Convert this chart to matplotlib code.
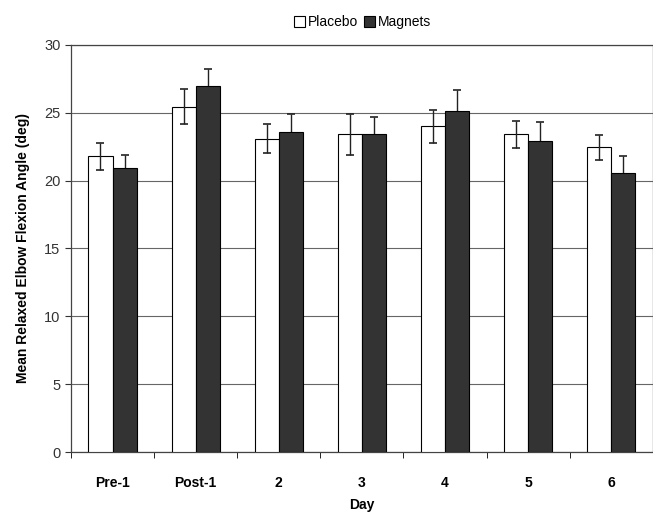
import matplotlib.pyplot as plt
import numpy as np

plt.rcParams['font.family'] = ['Liberation Sans', 'DejaVu Sans']

# data
days = ['Pre-1', 'Post-1', '2', '3', '4', '5', '6']
placebo = [21.8, 25.45, 23.1, 23.4, 24.0, 23.4, 22.45]
placebo_err = [1.0, 1.3, 1.1, 1.5, 1.2, 1.0, 0.9]
magnets = [20.9, 26.95, 23.6, 23.4, 25.15, 22.9, 20.55]
magnets_err = [1.0, 1.3, 1.3, 1.3, 1.5, 1.4, 1.25]

fig = plt.figure(figsize=(6.53, 5.14), dpi=100)
ax = fig.add_axes([0.1087, 0.1206, 0.891, 0.792])

x = np.arange(len(days))
w = 0.29
ax.bar(x - w/2, placebo, w, color='white', edgecolor='black', linewidth=0.8,
       label='Placebo', zorder=3)
ax.bar(x + w/2, magnets, w, color='#333333', edgecolor='black', linewidth=0.8,
       label='Magnets', zorder=3)
# placebo bars: whole error bar visible; magnets: lower half hidden by the dark bar
ax.errorbar(x - w/2, placebo, yerr=placebo_err, fmt='none', ecolor='#222222',
            elinewidth=1, capsize=3, capthick=1.2, zorder=4)
ax.errorbar(x + w/2, magnets, yerr=magnets_err, fmt='none', ecolor='#222222',
            elinewidth=1, capsize=3, capthick=1.2, zorder=2)

ax.set_ylim(0, 30)
ax.set_xlim(-0.5, 6.5)
ax.set_yticks(range(0, 31, 5))
ax.set_xticks(x)
ax.set_xticklabels(days, fontweight='bold', fontsize=10)
ax.set_xticks(np.arange(-0.5, 7, 1), minor=True)
ax.tick_params(axis='x', which='major', length=0, pad=17)
ax.tick_params(axis='x', which='minor', length=4, direction='out')
ax.tick_params(axis='y', labelsize=10.5, length=4, direction='out', colors='#333333')
ax.yaxis.grid(True, color='#666666', linewidth=0.8, zorder=0)

for s in ax.spines.values():
    s.set_color('#444444')
    s.set_linewidth(0.9)

ax.set_xlabel('Day', fontweight='bold', fontsize=10, labelpad=6)
ax.set_ylabel('Mean Relaxed Elbow Flexion Angle (deg)', fontweight='bold', fontsize=10,
              labelpad=10)

fig.legend(loc='upper center', bbox_to_anchor=(0.555, 0.995), ncol=2, frameon=False,
           handlelength=0.8, handleheight=0.8, handletextpad=0.2, columnspacing=0.4,
           fontsize=10)

fig.savefig('out.png', dpi=100)
